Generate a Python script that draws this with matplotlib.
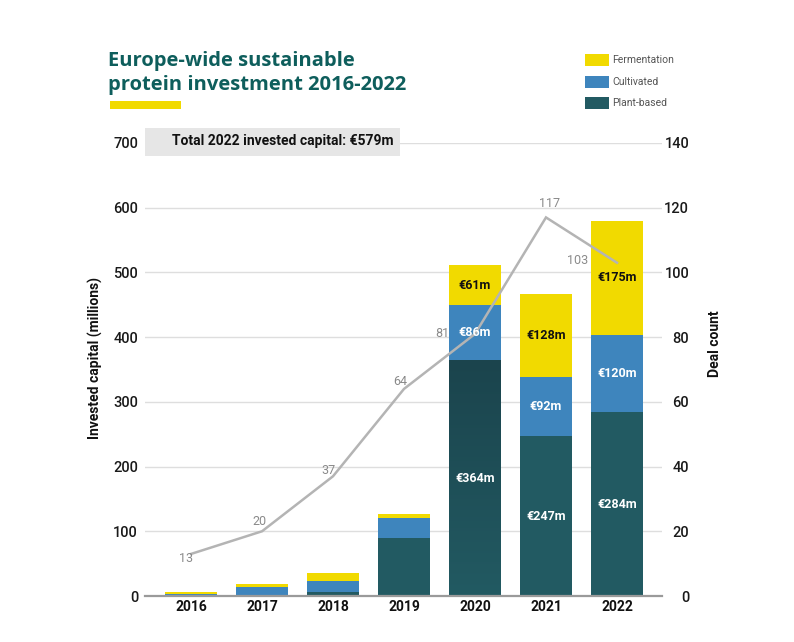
import matplotlib
matplotlib.use('Agg')
import matplotlib.pyplot as plt
from matplotlib.patches import Rectangle
from matplotlib.colors import LinearSegmentedColormap
import numpy as np

# ---- data ----
years = ['2016', '2017', '2018', '2019', '2020', '2021', '2022']
plant_based = [2, 2, 6, 90, 364, 247, 284]
cultivated = [0.5, 12, 17, 30, 86, 92, 120]
fermentation = [4, 4, 12, 7, 61, 128, 175]
deal_count = [13, 20, 37, 64, 81, 117, 103]
plant_labels = ['', '', '', '', '€364m', '€247m', '€284m']
cultivated_labels = ['', '', '', '', '€86m', '€92m', '€120m']
fermentation_labels = ['', '', '', '', '€61m', '€128m', '€175m']
left_ticks = [0, 100, 200, 300, 400, 500, 600, 700]
right_ticks = [0, 20, 40, 60, 80, 100, 120, 140]
series_names = ['Fermentation', 'Cultivated', 'Plant-based']
title_lines = ['Europe-wide sustainable', 'protein investment 2016-2022']
box_text = 'Total 2022 invested capital: €579m'

# ---- style ----
plt.rcParams['font.family'] = ['Roboto', 'DejaVu Sans']
C_PLANT = '#225a62'
C_PLANT_DARK = '#1b444d'
C_CULT = '#3e85bd'
C_FERM = '#f1da00'
C_TITLE = '#0e5e5c'
C_LINE = '#b4b4b4'

W, H = 794, 642
fig = plt.figure(figsize=(W / 100, H / 100), dpi=100)
fig.patch.set_facecolor('white')

def fx(px):
    return px / W

def fy(py):
    return 1 - py / H

ax = fig.add_axes([fx(145), fy(596), fx(662) - fx(145), fy(143) - fy(596)])
x = np.arange(len(years))
bw = 0.72

p = np.array(plant_based, dtype=float)
c = np.array(cultivated, dtype=float)
f = np.array(fermentation, dtype=float)

plant_bars = ax.bar(x, p, bw, color=C_PLANT, zorder=2)
ax.bar(x, c, bw, bottom=p, color=C_CULT, zorder=2)
ax.bar(x, f, bw, bottom=p + c, color=C_FERM, zorder=2)

# highlighted (shaded) plant-based segment of the 2020 bar, as in the screenshot
hl = years.index('2020')
bar = plant_bars[hl]
cmap = LinearSegmentedColormap.from_list('shade', [C_PLANT, C_PLANT_DARK])
grad = np.linspace(0, 1, 256).reshape(-1, 1)
im = ax.imshow(grad, cmap=cmap, aspect='auto', origin='lower', zorder=2.1,
               extent=[bar.get_x(), bar.get_x() + bar.get_width(), 0, bar.get_height()])
im.set_clip_path(bar)

ax.set_xlim(-0.648, 6.634)
ax.set_ylim(0, 700)
ax.set_yticks(left_ticks)
ax.set_yticklabels([str(t) for t in left_ticks], fontsize=10.5, fontweight='medium', color='#1a1a1a')
ax.set_xticks(x)
ax.set_xticklabels(years, fontsize=10, fontweight='bold', color='#111111')
ax.tick_params(axis='both', length=0)
ax.tick_params(axis='y', pad=5)
ax.tick_params(axis='x', pad=3)
ax.yaxis.grid(True, color='#dedede', lw=1, zorder=0)
ax.set_axisbelow(True)
for s in ['top', 'right', 'left']:
    ax.spines[s].set_visible(False)
ax.spines['bottom'].set_color('#9a9a9a')
ax.spines['bottom'].set_linewidth(1.6)
ax.patch.set_alpha(0)

ax2 = ax.twinx()
ax2.set_ylim(0, 140)
ax2.set_yticks(right_ticks)
ax2.set_yticklabels([str(t) for t in right_ticks], fontsize=10.5, fontweight='medium',
                    color='#1a1a1a', ha='right')
ax2.tick_params(axis='y', length=0, pad=19.5)
for s in ['top', 'right', 'left', 'bottom']:
    ax2.spines[s].set_visible(False)
ax2.plot(x, deal_count, color=C_LINE, lw=1.8, zorder=3, solid_joinstyle='miter')

label_offsets = [(-5, -4.5), (-3, 10), (-5, 6), (-4, 7), (-33, 0), (4, 14), (-39, 2)]
for xi, v, (dx, dy) in zip(x, deal_count, label_offsets):
    ax2.annotate(str(v), (xi, v), xytext=(dx * 0.72, dy * 0.72), textcoords='offset points',
                 ha='center', va='center', fontsize=9, color='#8a8a8a', zorder=4)

# segment labels
for xi in x:
    segs = [(plant_labels[xi], 0, p[xi], 'white'),
            (cultivated_labels[xi], p[xi], c[xi], 'white'),
            (fermentation_labels[xi], p[xi] + c[xi], f[xi], '#111111')]
    for lab, base, h, col in segs:
        if lab:
            ax2.text(xi, (base + h / 2) / 5.0, lab, ha='center', va='center',
                     fontsize=9, fontweight='bold', color=col, zorder=5)

# box with total
fig.add_artist(Rectangle((fx(145), fy(155.5)), fx(400) - fx(145), fy(127.5) - fy(155.5),
                         transform=fig.transFigure, facecolor='#e6e6e6', edgecolor='none', zorder=5))
fig.text(fx(283), fy(141.5), box_text, ha='center', va='center', fontsize=10,
         fontweight='bold', color='#111111', zorder=6)

# title
for line, base in zip(title_lines, [66, 90]):
    fig.text(fx(108), fy(base), line, ha='left', va='baseline', fontsize=14.5,
             fontweight='bold', color=C_TITLE, family=['Open Sans', 'DejaVu Sans'])
fig.add_artist(Rectangle((fx(110), fy(108.5)), fx(181) - fx(110), fy(101.5) - fy(108.5),
                         transform=fig.transFigure, facecolor=C_FERM, edgecolor='none'))

# legend
leg_cols = [C_FERM, C_CULT, C_PLANT]
leg_y = [60, 82, 103]
for name, col, yy in zip(series_names, leg_cols, leg_y):
    fig.add_artist(Rectangle((fx(585), fy(yy + 6)), fx(609) - fx(585), fy(yy - 6) - fy(yy + 6),
                             transform=fig.transFigure, facecolor=col, edgecolor='none'))
    fig.text(fx(612), fy(yy), name, ha='left', va='center', fontsize=7.5, color='#555555')

# axis titles
fig.text(fx(95), fy(358), 'Invested capital (millions)', rotation=90, ha='center', va='center',
         fontsize=10, fontweight='bold', color='#111111')
fig.text(fx(715), fy(344), 'Deal count', rotation=90, ha='center', va='center',
         fontsize=10, fontweight='bold', color='#111111')

fig.savefig('out.png', dpi=100, facecolor='white')
